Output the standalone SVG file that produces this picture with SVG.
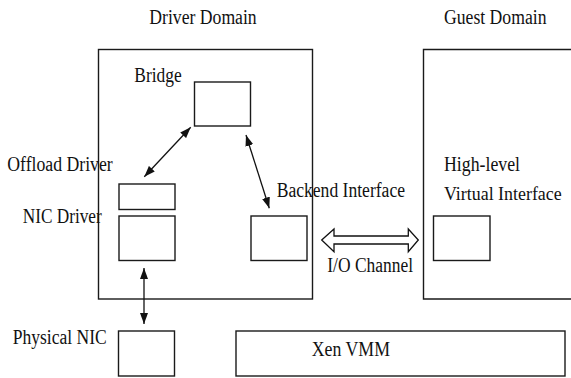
<svg xmlns="http://www.w3.org/2000/svg" width="571" height="378" viewBox="0 0 571 378">
<style>
.box{fill:none;stroke:#1a1a1a;stroke-width:1.4}
.t{font-family:"Liberation Serif","Times New Roman",serif;font-size:20px;fill:#111}
.t2{font-family:"Liberation Serif","Times New Roman",serif;font-size:18.5px;fill:#111}
.con{stroke:#111;stroke-width:1.3;fill:none;marker-start:url(#ah);marker-end:url(#ah)}
</style>
<defs>
<marker id="ah" viewBox="0 0 11 8" refX="11" refY="4" markerWidth="11" markerHeight="8" markerUnits="userSpaceOnUse" orient="auto-start-reverse">
<path d="M0,0 L11,4 L0,8 z" fill="#111"/>
</marker>
</defs>
<rect width="571" height="378" fill="#fff"/>
<g id="driver-domain">
<rect class="box" x="98.5" y="49.5" width="214" height="249.5"/>
<text class="t" x="149.3" y="24" textLength="107.4" lengthAdjust="spacingAndGlyphs">Driver Domain</text>
</g>
<g id="guest-domain">
<path class="box" d="M571,49.5 H423.5 V299 H571"/>
<text class="t" x="444" y="24" textLength="102.5" lengthAdjust="spacingAndGlyphs">Guest Domain</text>
</g>
<g id="bridge">
<rect class="box" x="194.5" y="82" width="56" height="44"/>
<text class="t" x="134.3" y="81.5" textLength="47.4" lengthAdjust="spacingAndGlyphs">Bridge</text>
</g>
<g id="offload-driver">
<rect class="box" x="119" y="184" width="56" height="25.5"/>
<text class="t" x="7.3" y="170.7" textLength="105.4" lengthAdjust="spacingAndGlyphs">Offload Driver</text>
</g>
<g id="nic-driver">
<rect class="box" x="119" y="216" width="56" height="44.5"/>
<text class="t" x="22.7" y="222.7" textLength="79" lengthAdjust="spacingAndGlyphs">NIC Driver</text>
</g>
<g id="backend-interface">
<rect class="box" x="251" y="216" width="56" height="44.5"/>
<text class="t" x="276.7" y="196.7" textLength="128.3" lengthAdjust="spacingAndGlyphs">Backend Interface</text>
</g>
<g id="virtual-interface">
<rect class="box" x="433.5" y="216" width="56.5" height="44.5"/>
<text class="t" x="444" y="170.7" textLength="76" lengthAdjust="spacingAndGlyphs">High-level</text>
<text class="t2" x="444" y="200" textLength="117.7" lengthAdjust="spacingAndGlyphs">Virtual Interface</text>
</g>
<g id="physical-nic">
<rect class="box" x="118.5" y="331" width="56" height="45"/>
<text class="t" x="12.7" y="343.7" textLength="94" lengthAdjust="spacingAndGlyphs">Physical NIC</text>
</g>
<g id="xen-vmm">
<rect class="box" x="236" y="331" width="329" height="45"/>
<text class="t" x="311.7" y="356" textLength="78.3" lengthAdjust="spacingAndGlyphs">Xen VMM</text>
</g>
<g id="io-channel">
<polygon points="321.7,240 334,229 334,236 408.3,236 408.3,229 418.3,240 408.3,251.7 408.3,244 334,244 334,251.7" fill="#fff" stroke="#111" stroke-width="1.3"/>
<text class="t" x="327.3" y="271.5" textLength="85.7" lengthAdjust="spacingAndGlyphs">I/O Channel</text>
</g>
<g id="connectors">
<line class="con" x1="190.7" y1="127.3" x2="144.3" y2="176.7"/>
<line class="con" x1="246" y1="135" x2="269.3" y2="208.3"/>
<line class="con" x1="144" y1="268" x2="144" y2="324"/>
</g>
</svg>
